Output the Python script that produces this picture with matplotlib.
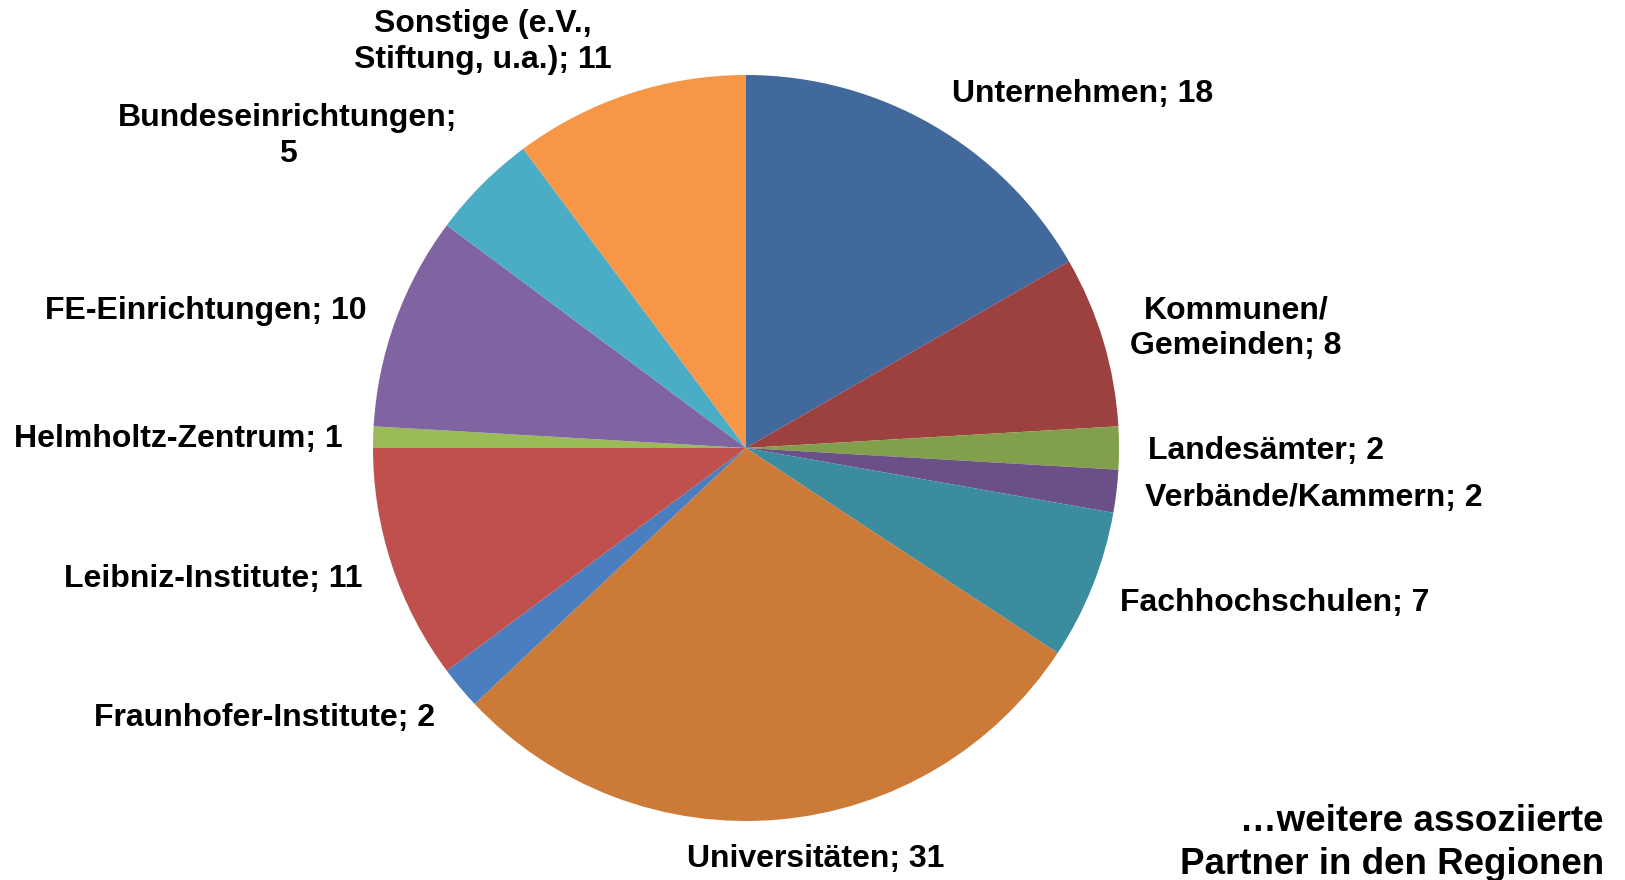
import matplotlib
matplotlib.use("Agg")
import matplotlib.pyplot as plt

categories = ["Unternehmen", "Kommunen/\nGemeinden", "Landesämter", "Verbände/Kammern",
              "Fachhochschulen", "Universitäten", "Fraunhofer-Institute", "Leibniz-Institute",
              "Helmholtz-Zentrum", "FE-Einrichtungen", "Bundeseinrichtungen;\n", "Sonstige (e.V.,\nStiftung, u.a.)"]
values = [18, 8, 2, 2, 7, 31, 2, 11, 1, 10, 5, 11]
colors = ["#41699B", "#9C4040", "#829F4B", "#6B5088", "#3C8CA0", "#CC7A37",
          "#4A7EBF", "#C0504D", "#9BBB59", "#8064A2", "#4BACC6", "#F79646"]
label_pos = [(1083, 94), (1236, 328), (1266, 451), (1314, 498), (1275, 603), (816, 859),
             (264, 718), (213, 579), (178, 439), (206, 311), (288, 136), (483, 42)]

plt.rcParams['font.family'] = ['Liberation Sans', 'DejaVu Sans']

W, H = 1625, 880
fig = plt.figure(figsize=(W / 100, H / 100), dpi=100)
ax = fig.add_axes([0, 0, 1, 1])

ax.pie(values, colors=colors, startangle=-90, counterclock=True,
       center=(746, 448), radius=373, frame=True,
       wedgeprops=dict(linewidth=0))
ax.set_xlim(0, W)
ax.set_ylim(H, 0)
ax.set_aspect('equal')
ax.axis('off')

for cat, v, (x, y) in zip(categories, values, label_pos):
    if cat.endswith(";\n"):
        txt = cat + str(v)
    else:
        txt = f"{cat}; {v}"
    ax.text(x, y, txt, ha='center', va='center', fontsize=23, fontweight='bold',
            linespacing=1.25)

ax.text(1604, 843, "…weitere assoziierte\nPartner in den Regionen", ha='right', va='center',
        multialignment='right', fontsize=26.5, fontweight='bold', linespacing=1.32)

fig.savefig("out.png", dpi=100)
